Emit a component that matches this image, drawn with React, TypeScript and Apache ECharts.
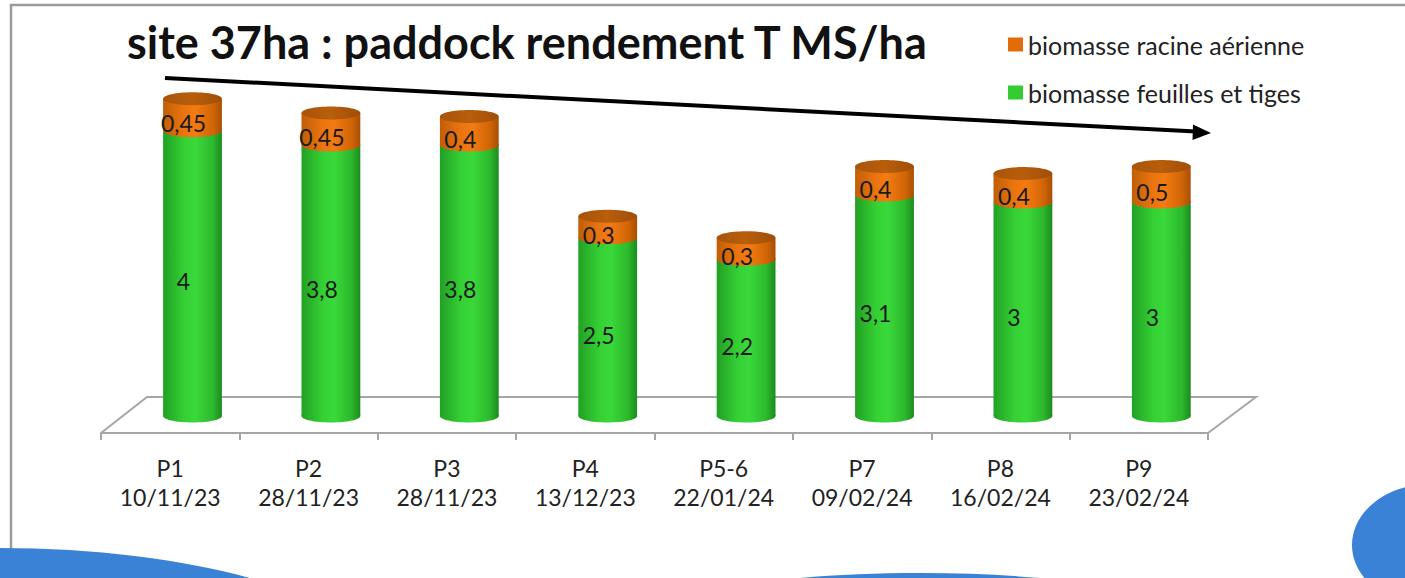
import React, { useEffect, useRef } from "react";
import * as echarts from "echarts";

const codes = ["P1", "P2", "P3", "P4", "P5-6", "P7", "P8", "P9"];
const dates = ["10/11/23", "28/11/23", "28/11/23", "13/12/23", "22/01/24", "09/02/24", "16/02/24", "23/02/24"];
const feuilles = [4, 3.8, 3.8, 2.5, 2.2, 3.1, 3, 3];
const racine = [0.45, 0.45, 0.4, 0.3, 0.3, 0.4, 0.4, 0.5];
const seriesNames = ["biomasse racine aérienne", "biomasse feuilles et tiges"];
const titleText = "site 37ha : paddock rendement T MS/ha";

const FONT = "Lato";

const grad = (stops: [number, string][]) => ({
  type: "linear",
  x: 0,
  y: 0,
  x2: 1,
  y2: 0,
  colorStops: stops.map(([offset, color]) => ({ offset, color })),
});

const greenGrad = grad([
  [0, "#22a024"],
  [0.35, "#34cf34"],
  [0.55, "#3ad93a"],
  [0.85, "#2cb82c"],
  [1, "#1d8a1f"],
]);
const orangeGrad = grad([
  [0, "#c05e06"],
  [0.35, "#ea7410"],
  [0.55, "#f37b12"],
  [0.85, "#d06506"],
  [1, "#a94f04"],
]);
const topGrad = grad([
  [0, "#a9540a"],
  [0.5, "#b85e0c"],
  [1, "#a04e08"],
]);

const fmt = (v: number) => String(v).replace(".", ",");

function makeRender(kind: "green" | "orange") {
  return (params: any, api: any) => {
    const i = api.value(0);
    const lo = api.value(1);
    const hi = api.value(2);
    const v = api.value(3);
    const pLo = api.coord([i, lo]);
    const pHi = api.coord([i, hi]);
    const bw = api.size([1, 0])[0] * 0.425;
    const rx = bw / 2;
    const ry = 6.5;
    const cx = pLo[0];
    const children: any[] = [];
    const fill = kind === "green" ? greenGrad : orangeGrad;
    children.push({
      type: "ellipse",
      shape: { cx, cy: pLo[1], rx, ry },
      style: { fill },
    });
    children.push({
      type: "rect",
      shape: { x: cx - rx, y: pHi[1], width: bw, height: pLo[1] - pHi[1] },
      style: { fill },
    });
    if (kind === "orange") {
      children.push({
        type: "ellipse",
        shape: { cx, cy: pHi[1], rx, ry },
        style: { fill: topGrad },
      });
    }
    children.push({
      type: "text",
      x: cx - 9,
      y: (pLo[1] + pHi[1]) / 2 + 8,
      style: {
        text: fmt(v),
        fontSize: 23,
        fontFamily: FONT,
        fill: "#1a1a1a",
        align: "center",
        verticalAlign: "middle",
      },
    });
    return { type: "group", children };
  };
}

export default function App() {
  const ref = useRef<HTMLDivElement>(null);
  useEffect(() => {
    if (!ref.current) return;
    const chart = echarts.init(ref.current, undefined, { renderer: "svg" });
    const greenData = feuilles.map((v, i) => [i, 0, v, v]);
    const orangeData = racine.map((v, i) => [i, feuilles[i], feuilles[i] + v, v]);
    const labels = codes.map((c, i) => c + "\n" + dates[i]);
    chart.setOption({
      animation: false,
      backgroundColor: "#ffffff",
      title: {
        text: titleText,
        left: 122,
        top: 14,
        textStyle: { fontFamily: FONT, fontWeight: "bold", fontSize: 45, color: "#111" },
      },
      legend: {
        data: seriesNames,
        orient: "vertical",
        left: 1003,
        top: 27,
        itemWidth: 15,
        itemHeight: 14,
        itemGap: 23,
        icon: "rect",
        textStyle: { fontFamily: FONT, fontSize: 25, color: "#222" },
      },
      grid: [
        { left: 123.3, right: 174.5, top: 59.5, bottom: 162 },
        { left: 101, right: 197, top: 400, bottom: 145 },
      ],
      xAxis: [
        {
          type: "category",
          data: labels,
          gridIndex: 0,
          show: false,
        },
        {
          type: "category",
          data: labels,
          gridIndex: 1,
          axisLine: { lineStyle: { color: "#a6a6a6", width: 2 } },
          axisTick: { show: true, length: 7, lineStyle: { color: "#a6a6a6", width: 2 } },
          axisLabel: {
            margin: 20,
            fontFamily: FONT,
            fontSize: 23,
            lineHeight: 29,
            color: "#222",
            interval: 0,
          },
        },
      ],
      yAxis: [
        { type: "value", gridIndex: 0, min: 0, max: 5, show: false },
        { type: "value", gridIndex: 1, min: 0, max: 1, show: false },
      ],
      series: [
        {
          name: seriesNames[1],
          type: "custom",
          xAxisIndex: 0,
          yAxisIndex: 0,
          itemStyle: { color: "#33cc33" },
          renderItem: makeRender("green"),
          encode: { x: 0, y: [1, 2] },
          data: greenData,
        },
        {
          name: seriesNames[0],
          type: "custom",
          xAxisIndex: 0,
          yAxisIndex: 0,
          itemStyle: { color: "#e36c0a" },
          renderItem: makeRender("orange"),
          encode: { x: 0, y: [1, 2] },
          data: orangeData,
        },
      ],
      graphic: [
        {
          type: "polyline",
          z: 0,
          shape: { points: [[101, 433], [147, 397], [1256, 397], [1208, 433]] },
          style: { stroke: "#a6a6a6", lineWidth: 2, fill: null },
        },
        {
          type: "polyline",
          z: 0,
          shape: { points: [[11, 560], [11, 5], [1405, 5]] },
          style: { stroke: "#9a9a9a", lineWidth: 2.5, fill: null },
        },
        {
          type: "line",
          z: 10,
          shape: { x1: 165, y1: 78, x2: 1196, y2: 131.5 },
          style: { stroke: "#000", lineWidth: 4 },
        },
        {
          type: "polygon",
          z: 10,
          shape: { points: [[1211, 133], [1193, 124.5], [1192.5, 140]] },
          style: { fill: "#000" },
        },
        {
          type: "ellipse",
          z: 20,
          shape: { cx: 0, cy: 685, rx: 400, ry: 137 },
          style: { fill: "#3a82d5" },
        },
        {
          type: "ellipse",
          z: 20,
          shape: { cx: 920, cy: 633, rx: 300, ry: 60 },
          style: { fill: "#3a82d5" },
        },
        {
          type: "ellipse",
          z: 20,
          shape: { cx: 1430, cy: 545, rx: 78, ry: 61 },
          style: { fill: "#3a82d5" },
        },
      ],
    });
    return () => chart.dispose();
  }, []);
  return (
    <div
      ref={ref}
      style={{ position: "fixed", left: 0, top: 0, width: 1405, height: 578, background: "#fff" }}
    />
  );
}
